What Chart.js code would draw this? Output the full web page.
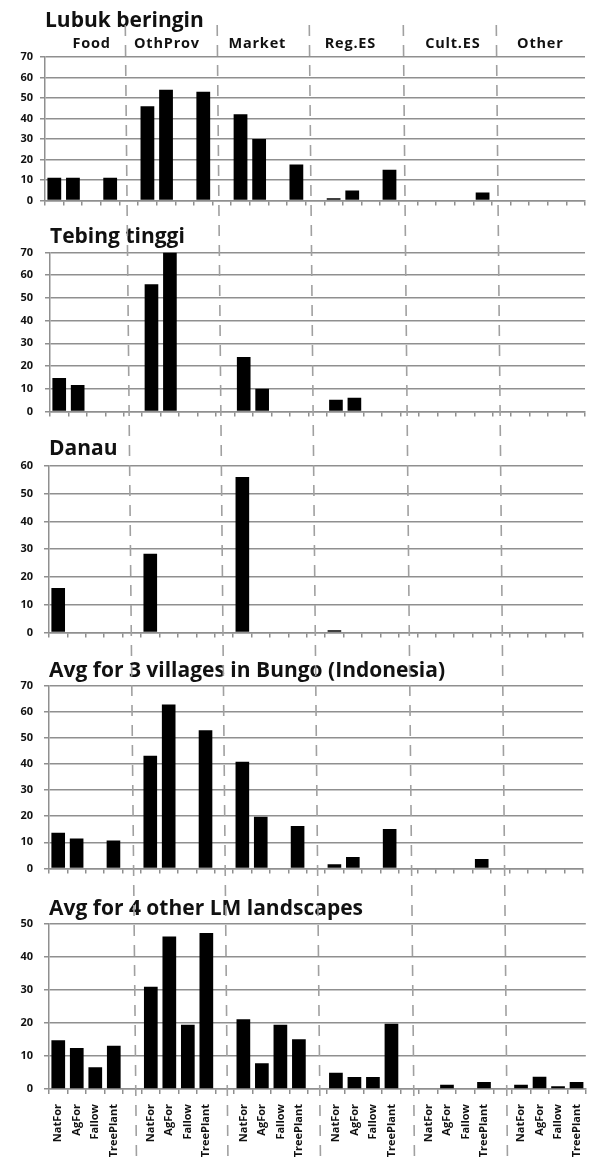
<!DOCTYPE html>
<html>
<head>
<meta charset="utf-8">
<script src="https://cdn.jsdelivr.net/npm/chart.js@4.4.1/dist/chart.umd.min.js"></script>
<style>
  html, body { margin: 0; padding: 0; background: #fff; }
  body { width: 589px; height: 1165px; overflow: hidden; position: relative; }
  canvas.panel { position: absolute; left: 0; }
</style>
</head>
<body>
<script>
// x categories: 4 land uses inside each of 6 service groups, blank slot between groups
const groups = ["Food", "OthProv", "Market", "Reg.ES", "Cult.ES", "Other"];
const landUses = ["NatFor", "AgFor", "Fallow", "TreePlant"];

const titles = [
    "Lubuk beringin",
    "Tebing tinggi",
    "Danau",
    "Avg for 3 villages in Bungo (Indonesia)",
    "Avg for 4 other LM landscapes"
];

// values, 4 per group (NatFor, AgFor, Fallow, TreePlant), groups in order above
const lubukBeringin = [11, 11, 0, 11,   46, 54, 0, 53,   42, 30, 0, 17.5,   1, 4.8, 0, 15,   0, 0, 0, 3.8,   0, 0, 0, 0];
const tebingTinggi  = [14.7, 11.6, 0, 0, 56, 70, 0, 0,   24, 10, 0, 0,      5.1, 6, 0, 0,    0, 0, 0, 0,     0, 0, 0, 0];
const danau         = [16, 0, 0, 0,     28.4, 0, 0, 0,   56, 0, 0, 0,       0.8, 0, 0, 0,    0, 0, 0, 0,     0, 0, 0, 0];
const bungoAvg      = [13.6, 11.4, 0, 10.7, 43.1, 62.7, 0, 52.9, 40.8, 19.8, 0, 16.2, 1.6, 4.4, 0, 15.1, 0, 0, 0, 3.6, 0, 0, 0, 0];
const otherLmAvg    = [14.8, 12.4, 6.6, 13.1, 31, 46.2, 19.5, 47.3, 21.1, 7.8, 19.5, 15.1, 4.9, 3.6, 3.6, 19.8, 0, 1.3, 0, 2.1, 1.3, 3.7, 0.8, 2.1];

const series = [lubukBeringin, tebingTinggi, danau, bungoAvg, otherLmAvg];
const yMax = [70, 70, 60, 70, 50];

/* LAYOUT (page pixels) */
const panels = [
    { top: 0,   height: 214, titleY: 20,  plotTop: 57,    plotBottom: 204,   axisX: 45, right: 585 },
    { top: 214, height: 216, titleY: 236, plotTop: 252.5, plotBottom: 421,   axisX: 50, right: 585 },
    { top: 430, height: 220, titleY: 448, plotTop: 466,   plotBottom: 636,   axisX: 49, right: 583 },
    { top: 650, height: 236, titleY: 670, plotTop: 685.5, plotBottom: 877.5, axisX: 49, right: 583 },
    { top: 886, height: 279, titleY: 908, plotTop: 924,   plotBottom: 1089,  axisX: 49, right: 590 }
];
const canvasWidth = 600;
const titleSize = 21;
const groupLabelAt = [2, 6.05, 10.9, 15.9, 21.4, 26.1];   // slot index where each group name sits
const separators = [[125.3, 136.5], [217.2, 228], [309.3, 320.5], [403.3, 414.5], [496.3, 507.5]];
const sepTop = 25, sepBottom = 1165;

const gridColor = "#8f8f8f";
const textColor = "#111";
const fontFamily = "'Open Sans'";

function toSlots(values) {
    const out = [];
    groups.forEach((g, gi) => {
        if (gi > 0) out.push(null);
        landUses.forEach((u, ui) => out.push(values[gi * landUses.length + ui]));
    });
    return out;
}
const slotLabels = toSlots(groups.flatMap(() => landUses)).map(l => l === null ? "" : l);

/* DASHED SEPARATORS, one straight line across all panels */
const separatorPlugin = {
    id: "separators",
    afterDraw(chart, args, opts) {
        const ctx = chart.ctx;
        const top = opts.pageTop;
        const y0 = Math.max(sepTop, top), y1 = top + chart.height;
        ctx.save();
        ctx.strokeStyle = "#a0a0a0";
        ctx.lineWidth = 1.6;
        ctx.setLineDash([11, 9]);
        ctx.lineDashOffset = (y0 - sepTop) % 20;
        separators.forEach(([a, b]) => {
            const xAt = y => a + (b - a) * (y - sepTop) / (sepBottom - sepTop);
            ctx.beginPath();
            ctx.moveTo(xAt(y0), y0 - top);
            ctx.lineTo(xAt(y1), y1 - top);
            ctx.stroke();
        });
        ctx.restore();
    }
};

/* GROUP NAMES above first panel */
const groupLabelPlugin = {
    id: "groupLabels",
    afterDraw(chart, args, opts) {
        if (!opts.show) return;
        const x = chart.scales.x, ctx = chart.ctx;
        ctx.save();
        ctx.font = "bold 14.5px " + fontFamily;
        ctx.letterSpacing = "0.8px";
        ctx.fillStyle = textColor;
        ctx.textAlign = "center";
        ctx.textBaseline = "middle";
        groups.forEach((g, i) => ctx.fillText(g, x.getPixelForValue(groupLabelAt[i]), chart.chartArea.top - 13));
        ctx.restore();
    }
};

panels.forEach((p, i) => {
    const canvas = document.createElement("canvas");
    canvas.width = canvasWidth;
    canvas.height = p.height;
    canvas.className = "panel";
    canvas.style.top = p.top + "px";
    document.body.appendChild(canvas);

    const last = i === panels.length - 1;
    const xAxisH = last ? 74 : 6;
    const halfLine = titleSize * 1.2 / 2;

    new Chart(canvas, {
        type: "bar",
        data: {
            labels: slotLabels,
            datasets: [{
                data: toSlots(series[i]),
                backgroundColor: "#000",
                barPercentage: 0.74,
                categoryPercentage: 1
            }]
        },
        options: {
            responsive: false,
            animation: false,
            events: [],
            layout: {
                padding: {
                    top: 0,
                    left: 0,
                    right: canvasWidth - p.right,
                    bottom: p.height - (p.plotBottom - p.top) - xAxisH
                }
            },
            plugins: {
                legend: { display: false },
                tooltip: { enabled: false },
                title: {
                    display: true,
                    text: titles[i],
                    align: "start",
                    fullSize: false,
                    color: textColor,
                    font: { family: fontFamily, size: titleSize, weight: "bold" },
                    padding: { top: p.titleY - p.top - halfLine + 1, bottom: p.plotTop - p.titleY - halfLine - 1 }
                },
                separators: { pageTop: p.top },
                groupLabels: { show: i === 0 }
            },
            scales: {
                x: {
                    grid: { drawOnChartArea: false, tickLength: 5, color: gridColor, lineWidth: 1.5 },
                    border: { color: gridColor, width: 1.5 },
                    ticks: {
                        display: last,
                        autoSkip: false,
                        minRotation: 90,
                        maxRotation: 90,
                        padding: 10,
                        color: textColor,
                        font: { family: fontFamily, size: 11, weight: "bold" }
                    },
                    afterFit: s => { s.height = xAxisH; }
                },
                y: {
                    min: 0,
                    max: yMax[i],
                    ticks: {
                        stepSize: 10,
                        padding: p.axisX - 5 - 33,
                        color: textColor,
                        font: { family: fontFamily, size: 11, weight: "bold" }
                    },
                    grid: { color: gridColor, lineWidth: 1.5, tickLength: 5 },
                    border: { color: gridColor, width: 1.5 },
                    afterFit: s => { s.width = p.axisX; }
                }
            }
        },
        plugins: [separatorPlugin, groupLabelPlugin]
    });
});
</script>
</body>
</html>
